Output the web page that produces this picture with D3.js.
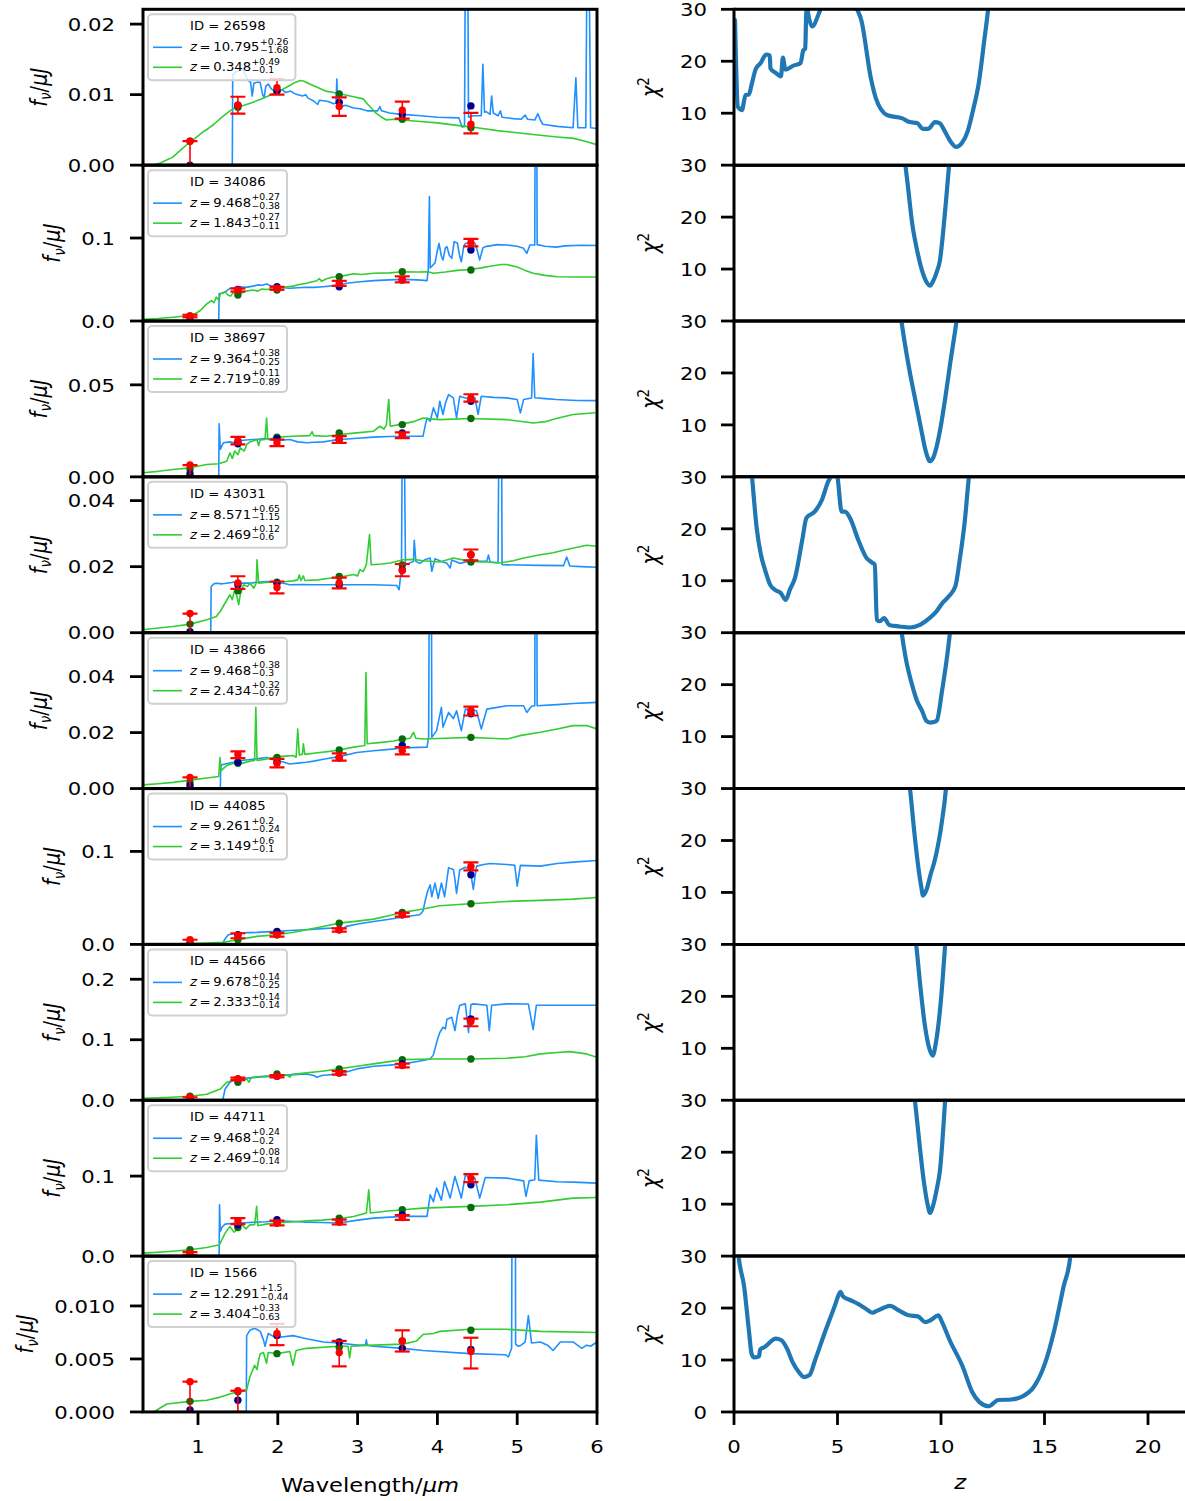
<!DOCTYPE html>
<html>
<head>
<meta charset="utf-8">
<script src="https://cdn.jsdelivr.net/npm/d3@7"></script>
<style>
  body { margin: 0; background: #ffffff; }
  text { font-family: "DejaVu Sans", sans-serif; fill: #000; }
</style>
</head>
<body>
<svg id="fig" width="1185" height="1501"></svg>
<script>
// ---------------------------------------------------------------------------
// Photometric redshift fits for nine candidates: SED fits (left) and chi^2(z)
// ---------------------------------------------------------------------------

const galaxyIds = ["26598", "34086", "38697", "43031", "43866", "44085", "44566", "44711", "1566"];

// primary (blue) and secondary (green) solutions: value, +err, -err
const zPrimary = [
  ["10.795", "+0.26", "\u22121.68"], ["9.468", "+0.27", "\u22120.38"], ["9.364", "+0.38", "\u22120.25"],
  ["8.571", "+0.65", "\u22121.15"], ["9.468", "+0.38", "\u22120.3"], ["9.261", "+0.2", "\u22120.24"],
  ["9.678", "+0.14", "\u22120.25"], ["9.468", "+0.24", "\u22120.2"], ["12.291", "+1.5", "\u22120.44"]
];
const zSecondary = [
  ["0.348", "+0.49", "\u22120.1"], ["1.843", "+0.27", "\u22120.11"], ["2.719", "+0.11", "\u22120.89"],
  ["2.469", "+0.12", "\u22120.6"], ["2.434", "+0.32", "\u22120.67"], ["3.149", "+0.6", "\u22120.1"],
  ["2.333", "+0.14", "\u22120.14"], ["2.469", "+0.08", "\u22120.14"], ["3.404", "+0.33", "\u22120.63"]
];

// NIRCam band pivot wavelengths (micron)
const bandWave = [0.90, 1.50, 1.99, 2.77, 3.56, 4.42];

// observed fluxes (uJy) with lower / upper errors
const obsFlux = [
  [0.0034, 0.0085, 0.0110, 0.0083, 0.0078, 0.0058],
  [0.0060, 0.0373, 0.0394, 0.0454, 0.0502, 0.0944],
  [0.0064, 0.0197, 0.0185, 0.0203, 0.0226, 0.0429],
  [0.0058, 0.0151, 0.0137, 0.0151, 0.0188, 0.0236],
  [0.0040, 0.0122, 0.0090, 0.0111, 0.0136, 0.0279],
  [0.0050, 0.0093, 0.0104, 0.0158, 0.0319, 0.0839],
  [0.0050, 0.0353, 0.0397, 0.0452, 0.0573, 0.1300],
  [0.0030, 0.0442, 0.0413, 0.0425, 0.0483, 0.0975],
  [0.00286, 0.0020, 0.0074, 0.0056, 0.0067, 0.0057]
];
const obsErrLo = [
  [0.0034, 0.0012, 0.0010, 0.0013, 0.0012, 0.0013],
  [0.0015, 0.0018, 0.0018, 0.0030, 0.0036, 0.0045],
  [0.0064, 0.0020, 0.0018, 0.0018, 0.0016, 0.0020],
  [0.0058, 0.0018, 0.0018, 0.0017, 0.0017, 0.0017],
  [0.0040, 0.0013, 0.0014, 0.0011, 0.0014, 0.0018],
  [0.0050, 0.0027, 0.0020, 0.0020, 0.0020, 0.0043],
  [0.0050, 0.0020, 0.0020, 0.0030, 0.0030, 0.0077],
  [0.0020, 0.0042, 0.0030, 0.0030, 0.0030, 0.0050],
  [0.00286, 0.0020, 0.0011, 0.0013, 0.0010, 0.0016]
];
const obsErrHi = [
  [0.0000, 0.0012, 0.0012, 0.0013, 0.0012, 0.0016],
  [0.0015, 0.0018, 0.0018, 0.0030, 0.0036, 0.0045],
  [0.0000, 0.0020, 0.0018, 0.0018, 0.0016, 0.0020],
  [0.0000, 0.0020, 0.0018, 0.0016, 0.0020, 0.0016],
  [0.0000, 0.0011, 0.0016, 0.0015, 0.0012, 0.0014],
  [0.0000, 0.0027, 0.0020, 0.0015, 0.0020, 0.0043],
  [0.0000, 0.0020, 0.0020, 0.0030, 0.0030, 0.0050],
  [0.0020, 0.0033, 0.0030, 0.0030, 0.0030, 0.0050],
  [0.0000, 0.0000, 0.0009, 0.0011, 0.0010, 0.0013]
];

// model photometry of the two templates
const modelPhotPrimary = [
  [0.0000, 0.0085, 0.0105, 0.0089, 0.0072, 0.0084],
  [0.0040, 0.0380, 0.0413, 0.0413, 0.0494, 0.0855],
  [0.0016, 0.0180, 0.0208, 0.0203, 0.0239, 0.0411],
  [0.0003, 0.0145, 0.0150, 0.0145, 0.0190, 0.0236],
  [0.0010, 0.0094, 0.0095, 0.0109, 0.0154, 0.0267],
  [0.0005, 0.0104, 0.0140, 0.0158, 0.0319, 0.0749],
  [0.0010, 0.0353, 0.0397, 0.0452, 0.0600, 0.1344],
  [0.0010, 0.0392, 0.0454, 0.0430, 0.0517, 0.0892],
  [0.0002, 0.0011, 0.0072, 0.0066, 0.0060, 0.0059]
];
const modelPhotSecondary = [
  [0.0034, 0.0082, 0.0106, 0.0101, 0.0065, 0.0053],
  [0.0060, 0.0313, 0.0373, 0.0534, 0.0594, 0.0615],
  [0.0040, 0.0190, 0.0216, 0.0239, 0.0284, 0.0317],
  [0.0026, 0.0127, 0.0153, 0.0170, 0.0205, 0.0214],
  [0.0022, 0.0090, 0.0111, 0.0138, 0.0177, 0.0183],
  [0.0020, 0.0050, 0.0104, 0.0229, 0.0344, 0.0437],
  [0.0066, 0.0298, 0.0435, 0.0518, 0.0672, 0.0683],
  [0.0079, 0.0358, 0.0413, 0.0475, 0.0579, 0.0608],
  [0.0010, 0.0019, 0.0055, 0.0061, 0.0067, 0.0077]
];

// template spectra [wavelength um, flux uJy]
const specPrimary = [
  [[0.31,0],[1.43,0],[1.435,0.0128],[1.46,0.0131],[1.50,0.0134],[1.56,0.0136],[1.62,0.0122],[1.66,0.0117],[1.68,0.0098],[1.70,0.0116],[1.75,0.0118],[1.78,0.0117],[1.81,0.0100],[1.83,0.0096],[1.85,0.0112],[1.88,0.0115],[1.92,0.0108],[1.97,0.0105],[2.05,0.0107],[2.10,0.0103],[2.16,0.0105],[2.22,0.0101],[2.31,0.0098],[2.35,0.0100],[2.38,0.0095],[2.45,0.0091],[2.50,0.0086],[2.52,0.0092],[2.60,0.0091],[2.64,0.0090],[2.70,0.0087],[2.73,0.0088],[2.74,0.0122],[2.75,0.0088],[2.79,0.0083],[2.85,0.0085],[2.95,0.0081],[3.03,0.0080],[3.12,0.0077],[3.25,0.0077],[3.28,0.0083],[3.30,0.0077],[3.40,0.0074],[3.55,0.0072],[3.79,0.0070],[4.0,0.0068],[4.27,0.0067],[4.31,0.0054],[4.34,0.0055],[4.35,0.03],[4.38,0.03],[4.39,0.0068],[4.45,0.0070],[4.55,0.0070],[4.57,0.0143],[4.59,0.0075],[4.61,0.0076],[4.66,0.0072],[4.68,0.0098],[4.70,0.0074],[4.76,0.0070],[4.79,0.0077],[4.81,0.0068],[4.95,0.0066],[5.05,0.0065],[5.10,0.0071],[5.13,0.0065],[5.22,0.0064],[5.26,0.0073],[5.29,0.0064],[5.32,0.0058],[5.50,0.0055],[5.70,0.0053],[5.735,0.0124],[5.76,0.0053],[5.86,0.0053],[5.875,0.03],[5.90,0.03],[5.92,0.0053],[6.0,0.0052]],
  [[0.31,0],[1.26,0],[1.265,0.033],[1.30,0.0335],[1.34,0.0349],[1.40,0.0394],[1.45,0.040],[1.53,0.0413],[1.60,0.0405],[1.69,0.042],[1.75,0.0435],[1.80,0.043],[1.86,0.0446],[1.92,0.042],[1.99,0.0413],[2.07,0.040],[2.15,0.0394],[2.25,0.040],[2.36,0.0406],[2.45,0.0405],[2.57,0.0413],[2.65,0.042],[2.77,0.0434],[2.86,0.0454],[3.0,0.047],[3.20,0.0486],[3.40,0.0495],[3.57,0.0502],[3.75,0.0495],[3.87,0.0486],[3.885,0.061],[3.90,0.150],[3.91,0.064],[3.93,0.066],[3.97,0.070],[4.0,0.085],[4.02,0.0936],[4.05,0.078],[4.07,0.0735],[4.10,0.088],[4.12,0.0896],[4.15,0.079],[4.18,0.0755],[4.21,0.0956],[4.25,0.094],[4.28,0.078],[4.30,0.0715],[4.33,0.090],[4.35,0.0936],[4.47,0.0936],[4.50,0.085],[4.53,0.0735],[4.57,0.088],[4.60,0.0896],[4.75,0.092],[4.87,0.0916],[5.0,0.090],[5.08,0.0876],[5.12,0.0815],[5.16,0.0916],[5.22,0.0916],[5.225,0.25],[5.245,0.25],[5.25,0.092],[5.35,0.090],[5.49,0.089],[5.6,0.0905],[5.8,0.0912],[6.0,0.091]],
  [[0.31,0],[1.26,0],[1.265,0.0288],[1.28,0.0149],[1.30,0.017],[1.32,0.0185],[1.40,0.019],[1.45,0.0185],[1.53,0.0197],[1.60,0.020],[1.69,0.0203],[1.78,0.0205],[1.86,0.0208],[1.92,0.020],[1.99,0.0197],[2.07,0.020],[2.15,0.0203],[2.25,0.019],[2.36,0.0185],[2.45,0.0188],[2.57,0.019],[2.68,0.0198],[2.78,0.0203],[3.0,0.021],[3.20,0.0216],[3.40,0.0219],[3.62,0.0221],[3.82,0.0221],[3.85,0.0284],[3.87,0.032],[3.91,0.0302],[3.95,0.0375],[4.0,0.032],[4.03,0.0411],[4.07,0.0339],[4.10,0.040],[4.14,0.0447],[4.20,0.0429],[4.24,0.032],[4.28,0.0438],[4.35,0.0429],[4.41,0.042],[4.47,0.0429],[4.51,0.0339],[4.55,0.0438],[4.7,0.0432],[4.87,0.0429],[5.0,0.042],[5.04,0.0348],[5.08,0.042],[5.18,0.0429],[5.2,0.067],[5.22,0.043],[5.35,0.0425],[5.49,0.042],[5.75,0.0415],[6.0,0.0414]],
  [[0.31,0],[1.16,0],[1.165,0.0140],[1.20,0.0148],[1.23,0.015],[1.30,0.0148],[1.36,0.015],[1.42,0.0152],[1.49,0.0155],[1.55,0.0150],[1.65,0.015],[1.75,0.0153],[1.86,0.0155],[1.99,0.0153],[2.07,0.015],[2.15,0.0145],[2.30,0.0146],[2.45,0.0145],[2.60,0.0145],[2.77,0.0145],[3.0,0.0145],[3.2,0.0145],[3.49,0.0143],[3.52,0.013],[3.55,0.0196],[3.56,0.06],[3.585,0.06],[3.60,0.0206],[3.70,0.0216],[3.71,0.028],[3.73,0.0216],[3.78,0.021],[3.85,0.0222],[3.91,0.0226],[3.93,0.0186],[3.97,0.0224],[4.05,0.0216],[4.12,0.021],[4.16,0.0196],[4.18,0.022],[4.28,0.021],[4.41,0.0217],[4.55,0.0216],[4.62,0.0217],[4.64,0.0235],[4.66,0.0214],[4.76,0.0212],[4.77,0.06],[4.805,0.06],[4.81,0.0206],[5.0,0.0205],[5.29,0.0204],[5.58,0.0203],[5.62,0.0229],[5.66,0.0202],[5.8,0.020],[6.0,0.0198]],
  [[0.31,0],[1.28,0],[1.285,0.0080],[1.30,0.0085],[1.34,0.0088],[1.44,0.0094],[1.53,0.010],[1.60,0.0102],[1.69,0.0105],[1.78,0.0108],[1.86,0.0111],[1.92,0.0105],[1.99,0.010],[2.07,0.0095],[2.15,0.0088],[2.25,0.0091],[2.36,0.0094],[2.45,0.0098],[2.57,0.0105],[2.77,0.0114],[2.99,0.0129],[3.20,0.0135],[3.40,0.014],[3.57,0.0145],[3.75,0.0147],[3.87,0.0148],[3.89,0.0183],[3.90,0.08],[3.925,0.08],[3.93,0.0183],[3.99,0.0207],[4.05,0.0290],[4.07,0.0219],[4.14,0.0272],[4.20,0.025],[4.24,0.0278],[4.30,0.0207],[4.35,0.0284],[4.49,0.0278],[4.55,0.0213],[4.62,0.0284],[4.75,0.029],[4.87,0.0296],[5.08,0.0296],[5.12,0.0272],[5.18,0.0294],[5.22,0.0296],[5.225,0.08],[5.245,0.08],[5.25,0.0296],[5.5,0.030],[5.70,0.0304],[6.0,0.0308]],
  [[0.31,0],[1.30,0],[1.34,0.006],[1.38,0.0104],[1.45,0.0115],[1.53,0.0122],[1.65,0.0127],[1.74,0.0129],[1.85,0.0135],[1.99,0.014],[2.15,0.015],[2.36,0.0158],[2.55,0.017],[2.70,0.0176],[2.77,0.0158],[2.80,0.016],[2.86,0.0194],[3.0,0.022],[3.20,0.0247],[3.40,0.027],[3.57,0.0294],[3.78,0.0319],[3.82,0.036],[3.85,0.048],[3.88,0.058],[3.91,0.064],[3.93,0.0513],[3.97,0.0659],[4.01,0.0495],[4.05,0.066],[4.09,0.0513],[4.14,0.0824],[4.20,0.0806],[4.22,0.070],[4.24,0.0548],[4.28,0.080],[4.35,0.083],[4.41,0.0806],[4.45,0.0591],[4.49,0.0842],[4.58,0.086],[4.66,0.087],[4.87,0.086],[4.97,0.085],[5.0,0.0627],[5.04,0.085],[5.29,0.0842],[5.5,0.087],[5.70,0.0885],[6.0,0.0903]],
  [[0.31,0],[1.31,0],[1.34,0.0187],[1.40,0.0298],[1.45,0.033],[1.53,0.0353],[1.65,0.037],[1.74,0.038],[1.85,0.039],[1.99,0.0397],[2.15,0.042],[2.36,0.0435],[2.45,0.041],[2.49,0.038],[2.55,0.041],[2.77,0.0435],[2.99,0.0518],[3.20,0.0562],[3.40,0.058],[3.57,0.0601],[3.75,0.064],[3.91,0.0683],[3.95,0.075],[4.0,0.1],[4.03,0.112],[4.07,0.1207],[4.10,0.118],[4.12,0.134],[4.18,0.137],[4.22,0.1152],[4.25,0.14],[4.28,0.157],[4.35,0.1593],[4.39,0.112],[4.42,0.158],[4.45,0.1593],[4.62,0.157],[4.65,0.115],[4.68,0.157],[4.87,0.1593],[5.14,0.159],[5.2,0.1169],[5.24,0.157],[5.5,0.157],[5.70,0.157],[6.0,0.157]],
  [[0.31,0],[1.265,0],[1.27,0.064],[1.28,0.0308],[1.30,0.036],[1.34,0.040],[1.45,0.041],[1.53,0.0413],[1.65,0.042],[1.74,0.0425],[1.85,0.043],[1.99,0.0442],[2.15,0.0435],[2.36,0.0425],[2.55,0.042],[2.77,0.0413],[3.0,0.045],[3.20,0.0475],[3.57,0.0496],[3.87,0.0496],[3.91,0.0767],[3.95,0.068],[3.99,0.0850],[4.05,0.070],[4.09,0.0933],[4.16,0.0725],[4.22,0.0996],[4.30,0.0725],[4.35,0.1008],[4.47,0.0975],[4.53,0.0725],[4.60,0.0983],[4.87,0.0975],[5.08,0.094],[5.11,0.0746],[5.15,0.094],[5.22,0.0954],[5.24,0.151],[5.27,0.095],[5.5,0.093],[5.70,0.0925],[6.0,0.0912]],
  [[0.31,0],[1.605,0],[1.61,0.0072],[1.65,0.0077],[1.71,0.0079],[1.78,0.0076],[1.82,0.0068],[1.84,0.0062],[1.88,0.0074],[1.95,0.0071],[1.99,0.0070],[2.07,0.0071],[2.19,0.0072],[2.36,0.0069],[2.57,0.0066],[2.78,0.0065],[2.99,0.0063],[3.10,0.0063],[3.11,0.0068],[3.12,0.0063],[3.20,0.0062],[3.57,0.0060],[3.82,0.0058],[4.41,0.0055],[4.85,0.0054],[4.89,0.0052],[4.93,0.006],[4.94,0.03],[4.975,0.03],[4.98,0.0064],[5.01,0.0062],[5.05,0.0063],[5.10,0.0066],[5.14,0.0091],[5.18,0.0065],[5.29,0.0066],[5.38,0.0063],[5.45,0.0058],[5.54,0.0066],[5.70,0.0066],[5.81,0.0060],[5.87,0.0063],[5.92,0.0062],[6.0,0.0066]]
];
const specSecondary = [
  [[0.31,0],[0.45,0.0001],[0.53,0.0003],[0.60,0.0007],[0.68,0.0011],[0.75,0.0018],[0.80,0.0023],[0.87,0.0030],[0.95,0.0037],[1.06,0.0047],[1.13,0.0052],[1.20,0.0058],[1.30,0.0068],[1.40,0.0077],[1.49,0.0083],[1.58,0.0085],[1.68,0.0089],[1.78,0.0093],[1.88,0.0098],[1.97,0.0103],[2.07,0.0108],[2.15,0.0113],[2.21,0.0117],[2.28,0.0120],[2.33,0.0119],[2.40,0.0115],[2.50,0.0110],[2.60,0.0105],[2.70,0.0103],[2.79,0.0101],[2.95,0.0097],[3.07,0.0094],[3.12,0.0087],[3.18,0.0080],[3.22,0.0075],[3.30,0.0068],[3.36,0.0064],[3.45,0.0065],[3.55,0.0064],[3.79,0.0062],[4.0,0.0060],[4.27,0.0056],[4.5,0.0053],[4.75,0.0049],[5.0,0.0046],[5.23,0.0043],[5.5,0.0040],[5.71,0.0038],[5.85,0.0034],[6.0,0.0029]],
  [[0.31,0.002],[0.50,0.003],[0.69,0.0046],[0.90,0.0066],[0.97,0.009],[1.03,0.0127],[1.11,0.0207],[1.17,0.0247],[1.20,0.022],[1.23,0.0287],[1.26,0.025],[1.28,0.0329],[1.34,0.0349],[1.38,0.031],[1.41,0.030],[1.44,0.034],[1.53,0.0329],[1.60,0.036],[1.69,0.0373],[1.75,0.036],[1.80,0.0385],[1.86,0.038],[1.93,0.039],[2.03,0.0394],[2.10,0.041],[2.19,0.042],[2.27,0.044],[2.36,0.0454],[2.42,0.047],[2.49,0.0486],[2.52,0.051],[2.55,0.048],[2.61,0.051],[2.69,0.053],[2.77,0.0534],[2.85,0.055],[2.95,0.057],[3.05,0.056],[3.20,0.0575],[3.40,0.058],[3.57,0.0594],[3.75,0.059],[3.87,0.0594],[3.92,0.0585],[3.95,0.0575],[4.1,0.059],[4.25,0.061],[4.41,0.062],[4.55,0.064],[4.66,0.066],[4.80,0.068],[4.87,0.068],[5.0,0.065],[5.1,0.061],[5.2,0.0575],[5.35,0.055],[5.5,0.0534],[5.75,0.053],[6.0,0.053]],
  [[0.31,0.0022],[0.50,0.003],[0.69,0.0040],[0.90,0.0049],[1.11,0.0067],[1.26,0.0071],[1.36,0.0085],[1.40,0.0130],[1.43,0.010],[1.46,0.014],[1.50,0.012],[1.53,0.0158],[1.58,0.014],[1.61,0.0176],[1.65,0.019],[1.74,0.0203],[1.76,0.017],[1.78,0.020],[1.84,0.0203],[1.86,0.032],[1.875,0.0203],[1.99,0.0216],[2.19,0.0221],[2.40,0.0224],[2.43,0.0245],[2.45,0.0224],[2.61,0.0221],[2.77,0.023],[2.99,0.0239],[3.20,0.0248],[3.28,0.0275],[3.33,0.026],[3.36,0.028],[3.39,0.042],[3.41,0.0275],[3.57,0.0288],[3.70,0.030],[3.82,0.032],[3.90,0.0315],[4.03,0.0311],[4.41,0.0317],[4.87,0.0311],[5.2,0.0293],[5.35,0.030],[5.49,0.0317],[5.70,0.0339],[5.98,0.0348]],
  [[0.31,0.0009],[0.50,0.0014],[0.69,0.0019],[0.90,0.0026],[1.11,0.0039],[1.23,0.0049],[1.28,0.0065],[1.34,0.009],[1.40,0.0115],[1.43,0.010],[1.46,0.013],[1.49,0.0108],[1.51,0.0085],[1.53,0.0115],[1.57,0.0145],[1.62,0.0140],[1.65,0.015],[1.70,0.0135],[1.73,0.015],[1.74,0.0221],[1.76,0.015],[1.85,0.0152],[1.94,0.0153],[2.10,0.0155],[2.19,0.0157],[2.25,0.0160],[2.27,0.0175],[2.29,0.0158],[2.32,0.0172],[2.34,0.0158],[2.50,0.016],[2.65,0.0165],[2.77,0.0168],[2.95,0.0176],[3.00,0.0172],[3.03,0.0191],[3.07,0.0185],[3.11,0.0206],[3.15,0.0297],[3.17,0.0206],[3.3,0.0208],[3.41,0.0211],[3.57,0.0221],[3.7,0.0222],[3.82,0.0218],[4.03,0.0214],[4.2,0.0226],[4.41,0.0216],[4.6,0.0214],[4.78,0.0211],[4.95,0.0218],[5.08,0.0226],[5.29,0.0236],[5.45,0.0242],[5.62,0.0252],[5.87,0.0265],[6.0,0.0262]],
  [[0.31,0.0013],[0.5,0.0017],[0.69,0.0022],[0.90,0.003],[1.11,0.0038],[1.26,0.0043],[1.275,0.0111],[1.29,0.0064],[1.32,0.0072],[1.36,0.0082],[1.42,0.0088],[1.49,0.0094],[1.55,0.009],[1.65,0.0098],[1.71,0.0100],[1.725,0.029],[1.74,0.0100],[1.85,0.0105],[1.99,0.0114],[2.10,0.0116],[2.19,0.0118],[2.23,0.0112],[2.25,0.0213],[2.27,0.0120],[2.31,0.0123],[2.32,0.0160],[2.34,0.0122],[2.5,0.0128],[2.65,0.0133],[2.77,0.0138],[2.95,0.0148],[3.05,0.0152],[3.09,0.0154],[3.105,0.0415],[3.12,0.016],[3.3,0.0165],[3.45,0.017],[3.57,0.0177],[3.66,0.0180],[3.70,0.0201],[3.73,0.0180],[3.82,0.0177],[4.1,0.018],[4.41,0.0183],[4.65,0.018],[4.87,0.0177],[5.05,0.019],[5.29,0.0201],[5.50,0.0213],[5.70,0.0225],[5.87,0.0225],[6.0,0.0213]],
  [[0.31,0.0],[0.6,0.0005],[0.9,0.001],[1.1,0.0015],[1.32,0.0022],[1.42,0.004],[1.53,0.0057],[1.74,0.0086],[1.99,0.0104],[2.2,0.013],[2.36,0.0158],[2.55,0.019],[2.77,0.0229],[3.0,0.025],[3.20,0.0272],[3.4,0.031],[3.57,0.0344],[3.82,0.038],[4.03,0.0416],[4.41,0.0437],[4.87,0.0462],[5.29,0.0473],[5.70,0.0487],[6.0,0.0505]],
  [[0.31,0.0033],[0.6,0.0045],[0.9,0.0066],[1.11,0.010],[1.28,0.0187],[1.36,0.0298],[1.45,0.033],[1.49,0.0342],[1.61,0.0353],[1.64,0.0298],[1.66,0.036],[1.69,0.038],[1.85,0.040],[1.99,0.0419],[2.12,0.042],[2.15,0.0380],[2.18,0.043],[2.36,0.0452],[2.55,0.048],[2.77,0.0518],[2.99,0.0562],[3.20,0.0601],[3.57,0.0672],[3.95,0.0683],[4.41,0.0683],[4.87,0.0694],[5.1,0.072],[5.29,0.0766],[5.5,0.079],[5.66,0.0804],[5.87,0.0766],[6.0,0.0711]],
  [[0.31,0.0037],[0.6,0.0055],[0.9,0.0079],[1.11,0.0108],[1.27,0.0142],[1.34,0.0287],[1.40,0.037],[1.45,0.030],[1.49,0.0329],[1.53,0.0413],[1.60,0.034],[1.65,0.039],[1.71,0.0392],[1.735,0.0621],[1.75,0.038],[1.85,0.040],[1.99,0.0413],[2.2,0.043],[2.36,0.0442],[2.55,0.045],[2.77,0.0467],[2.95,0.0496],[3.11,0.0538],[3.14,0.0829],[3.16,0.0538],[3.35,0.056],[3.57,0.0579],[3.82,0.06],[4.41,0.0621],[4.87,0.0642],[5.29,0.0675],[5.70,0.0725],[6.0,0.0733]],
  [[0.45,0],[0.52,0.00035],[0.61,0.00075],[0.90,0.0010],[1.11,0.0011],[1.28,0.0014],[1.49,0.0019],[1.61,0.0021],[1.65,0.0033],[1.71,0.0044],[1.74,0.0040],[1.76,0.0049],[1.78,0.0055],[1.82,0.0056],[1.86,0.0046],[1.88,0.0056],[1.99,0.0055],[2.15,0.0057],[2.19,0.0044],[2.23,0.0058],[2.36,0.0060],[2.77,0.0062],[2.88,0.0062],[2.90,0.0051],[2.92,0.0062],[3.20,0.0063],[3.57,0.0064],[3.74,0.0067],[3.82,0.0073],[3.95,0.0074],[4.03,0.0076],[4.41,0.0078],[4.87,0.0078],[5.29,0.0076],[6.0,0.0075]]
];

// chi^2 as a function of trial redshift [z, chi2]
const chi2Curves = [
  [[0.05,27.9],[0.19,11.2],[0.38,10.6],[0.56,13.5],[0.72,13.6],[0.85,15.5],[1.06,18.6],[1.28,19.6],[1.55,21.3],[1.73,21.1],[1.76,18.6],[2.0,17.8],[2.27,17.1],[2.36,20.7],[2.48,18.4],[2.9,19.2],[3.21,19.6],[3.35,22.1],[3.44,22.4],[3.49,29.2],[3.53,30.5],[3.58,29.2],[3.77,26.7],[4.16,29.8],[4.4,32],[5.5,33],[5.97,29.8],[6.15,27.9],[6.6,17.0],[6.86,12.8],[7.41,9.6],[8.13,9.0],[8.49,8.3],[8.85,8.1],[9.12,7.0],[9.39,7.0],[9.71,8.3],[9.93,8.1],[10.2,6.4],[10.47,4.5],[10.74,3.5],[11.0,4.2],[11.28,6.4],[11.55,10.6],[11.82,15.7],[12.09,24.0],[12.27,29.8],[12.35,33]],
  [[8.25,31],[8.4,26],[8.6,19],[8.84,13.7],[9.1,9.5],[9.3,7.5],[9.47,6.8],[9.6,7.5],[9.8,9.5],[9.95,11.7],[10.1,17],[10.24,23],[10.39,30],[10.45,33]],
  [[8.05,31],[8.2,27],[8.5,20],[8.8,14],[9.05,9],[9.2,6],[9.35,3.8],[9.45,3.0],[9.6,3.5],[9.8,6],[10.0,10],[10.2,15],[10.45,22],[10.75,30],[10.85,33]],
  [[0.8,33],[0.87,30],[1.1,20],[1.3,15],[1.5,12.1],[1.75,9.2],[2.0,8.2],[2.25,7.7],[2.5,6.3],[2.7,8.3],[2.95,10.6],[3.3,17.9],[3.5,22.1],[3.9,23.3],[4.25,25.6],[4.54,29],[4.73,30.5],[4.85,32],[5.0,30],[5.2,23.3],[5.36,23.3],[5.6,22.1],[6.0,17.9],[6.4,14.4],[6.67,13.5],[6.8,13.1],[6.9,2.5],[7.05,2.2],[7.25,2.8],[7.5,1.5],[8.0,1.2],[8.5,1.0],[8.98,1.5],[9.47,2.9],[9.76,4],[10.05,5.6],[10.4,7.1],[10.7,9.0],[10.9,13.9],[11.15,21.5],[11.35,30],[11.45,33]],
  [[8.0,33],[8.1,30],[8.3,25],[8.6,20],[8.84,16.9],[9.08,15],[9.3,13],[9.47,12.7],[9.65,12.8],[9.8,13.1],[10.05,18.8],[10.3,25.6],[10.43,30],[10.5,33]],
  [[8.4,33],[8.5,30],[8.7,22],[8.9,15],[9.05,11],[9.13,9.4],[9.3,10.5],[9.5,13.5],[9.7,16.2],[10.05,23.8],[10.24,30],[10.3,33]],
  [[8.7,33],[8.8,30],[9.0,22],[9.2,15],[9.4,10.5],[9.6,8.6],[9.75,11],[9.95,17.3],[10.2,30],[10.25,33]],
  [[8.65,33],[8.74,30],[8.95,22],[9.15,15],[9.35,10],[9.47,8.3],[9.6,9.5],[9.8,13],[9.95,16.5],[10.2,30],[10.25,33]],
  [[0.15,33],[0.22,30],[0.49,24.1],[0.72,15.7],[0.85,11.2],[0.97,10.5],[1.21,10.7],[1.26,12.0],[1.48,12.5],[2.02,14.1],[2.29,13.8],[2.56,12.2],[2.83,9.6],[3.19,7.4],[3.37,6.7],[3.65,7.1],[3.92,10.0],[4.37,15.1],[4.91,20.9],[5.05,22.5],[5.14,23.1],[5.27,22.2],[5.63,21.5],[5.99,20.8],[6.35,19.9],[6.68,19.1],[6.93,19.5],[7.26,20.1],[7.53,20.4],[7.98,19.5],[8.43,18.6],[8.88,18.4],[9.24,17.3],[9.51,17.7],[9.87,18.6],[10.05,17.3],[10.42,13.8],[11.05,8.7],[11.5,3.9],[11.86,1.9],[12.31,1.1],[12.76,2.3],[13.39,2.4],[13.94,3.0],[14.48,4.8],[15.02,9.3],[15.47,15.7],[15.92,24.1],[16.25,30],[16.3,33]]
];

// flux axis upper limits and tick values per panel
const fluxMax = [0.0221, 0.1878, 0.0847, 0.0472, 0.0557, 0.1676, 0.2576, 0.1948, 0.0147];
const fluxTicks = [[0, 0.01, 0.02], [0, 0.1], [0, 0.05], [0, 0.02, 0.04], [0, 0.02, 0.04], [0, 0.1], [0, 0.1, 0.2], [0, 0.1], [0, 0.005, 0.01]];
const fluxTickDigits = [2, 1, 2, 2, 2, 1, 1, 1, 3];
const waveTicks = [1, 2, 3, 4, 5, 6];
const zTicks = [0, 5, 10, 15, 20];
const chi2TicksUpper = [10, 20, 30];
const chi2TicksLast = [0, 10, 20, 30];

// ---------------------------------------------------------------------------
const svg = d3.select("#fig");
const rowTop0 = 9.3, rowH = 155.85, nRows = galaxyIds.length;
const leftX0 = 143, leftX1 = 597;
const rightX0 = 734, zMax = 21.85, zPx = 20.7;

const colPrimary = "#1e90ff", colSecondary = "#32cd32";
const colPhotPrimary = "#00008b", colPhotSecondary = "#0b6b0b";
const colChi = "#1f77b4";
const spineW = 3, tickLen = 12, tickW = 2.8;
const tickFont = 18.3, labelFont = 19.5, legendFont = 11.4, scriptFont = 8;
const SX = 1.16;   // horizontal glyph stretch of the typeset text

const xWave = d3.scaleLinear().domain([0.311, 6]).range([leftX0, leftX1]);
const xZ = d3.scaleLinear().domain([0, zMax]).range([rightX0, rightX0 + zMax * zPx]);

const defs = svg.append("defs");

// text placed at (x, y) and widened horizontally by SX
function wideText(g, x, y, size, anchor) {
  return g.append("text").attr("font-size", size).attr("text-anchor", anchor || "start")
    .attr("transform", `translate(${x},${y}) scale(${SX},1)`);
}
function textWidth(t) { return t.node().getComputedTextLength() * SX; }

function addMathLabel(g, parts, size) {
  const t = g.append("text").attr("font-size", size).attr("text-anchor", "middle");
  parts.forEach(p => {
    const s = t.append("tspan").text(p.t);
    if (p.it) s.attr("font-style", "italic");
    if (p.fs) s.attr("font-size", p.fs);
    if (p.dy) s.attr("dy", p.dy);
  });
  return t;
}

for (let i = 0; i < nRows; i++) {
  const top = rowTop0 + i * rowH, bottom = top + rowH;
  const isLast = i === nRows - 1;

  // ---------------- left: SED panel ----------------
  const yF = d3.scaleLinear().domain([0, fluxMax[i]]).range([bottom, top]);
  const gL = svg.append("g");
  defs.append("clipPath").attr("id", "clipL" + i)
    .append("rect").attr("x", leftX0).attr("y", top).attr("width", leftX1 - leftX0).attr("height", rowH);

  const plotL = gL.append("g").attr("clip-path", `url(#clipL${i})`);
  const line = d3.line().x(d => xWave(d[0])).y(d => yF(d[1]));
  plotL.append("path").datum(specPrimary[i]).attr("d", line)
    .attr("fill", "none").attr("stroke", colPrimary).attr("stroke-width", 1.6).attr("stroke-linejoin", "round");
  plotL.append("path").datum(specSecondary[i]).attr("d", line)
    .attr("fill", "none").attr("stroke", colSecondary).attr("stroke-width", 1.6).attr("stroke-linejoin", "round");

  const phot = bandWave.map((w, k) => ({
    w, f: obsFlux[i][k], lo: obsErrLo[i][k], hi: obsErrHi[i][k],
    mp: modelPhotPrimary[i][k], ms: modelPhotSecondary[i][k]
  }));
  plotL.selectAll(".ms").data(phot).join("circle")
    .attr("cx", d => xWave(d.w)).attr("cy", d => yF(d.ms)).attr("r", 3.7).attr("fill", colPhotSecondary);
  plotL.selectAll(".mp").data(phot).join("circle")
    .attr("cx", d => xWave(d.w)).attr("cy", d => yF(d.mp)).attr("r", 3.7).attr("fill", colPhotPrimary);
  const eb = plotL.append("g").attr("stroke", "red");
  phot.forEach(d => {
    const x = xWave(d.w), y0 = yF(d.f - d.lo), y1 = yF(d.f + d.hi);
    eb.append("line").attr("x1", x).attr("x2", x).attr("y1", y0).attr("y2", y1).attr("stroke-width", 1.6);
    eb.append("line").attr("x1", x - 7.5).attr("x2", x + 7.5).attr("y1", y0).attr("y2", y0).attr("stroke-width", 2.2);
    eb.append("line").attr("x1", x - 7.5).attr("x2", x + 7.5).attr("y1", y1).attr("y2", y1).attr("stroke-width", 2.2);
  });
  plotL.selectAll(".ob").data(phot).join("circle")
    .attr("cx", d => xWave(d.w)).attr("cy", d => yF(d.f)).attr("r", 3.7).attr("fill", "red");

  // legend
  const lg = gL.append("g");
  const lx = 148, ly = top + 5;
  const frame = lg.append("rect").attr("x", lx).attr("y", ly).attr("height", 66).attr("rx", 4)
    .attr("fill", "white").attr("fill-opacity", 0.8).attr("stroke", "#d0d0d0").attr("stroke-width", 2);
  const tx = 190;
  const idT = wideText(lg, tx, top + 21, legendFont).text("ID = " + galaxyIds[i]);
  let maxRight = tx + textWidth(idT);
  [[zPrimary[i], colPrimary, top + 38], [zSecondary[i], colSecondary, top + 58]].forEach(([zl, col, yc]) => {
    lg.append("line").attr("x1", 153).attr("x2", 182).attr("y1", yc).attr("y2", yc)
      .attr("stroke", col).attr("stroke-width", 1.6);
    const t = wideText(lg, tx, yc + 3.8, legendFont);
    t.append("tspan").attr("font-style", "italic").text("z");
    t.append("tspan").text("\u2009=\u2009" + zl[0]);
    const sx = tx + textWidth(t) + 0.5;
    const sup = wideText(lg, sx, yc - 2.8, scriptFont).text(zl[1]);
    const sub = wideText(lg, sx, yc + 5.6, scriptFont).text(zl[2]);
    maxRight = Math.max(maxRight, sx + textWidth(sup), sx + textWidth(sub));
  });
  frame.attr("width", maxRight + 7 - lx);

  // frame / spines
  gL.append("rect").attr("x", leftX0).attr("y", top).attr("width", leftX1 - leftX0).attr("height", rowH)
    .attr("fill", "none").attr("stroke", "#000").attr("stroke-width", spineW);

  // y ticks
  const fmt = d3.format("." + fluxTickDigits[i] + "f");
  let minLabelX = leftX0;
  fluxTicks[i].forEach(v => {
    const y = yF(v);
    gL.append("line").attr("x1", leftX0 - tickLen - 1).attr("x2", leftX0).attr("y1", y).attr("y2", y)
      .attr("stroke", "#000").attr("stroke-width", tickW);
    const t = wideText(gL, leftX0 - 28, y + 6.7, tickFont, "end").text(fmt(v));
    minLabelX = Math.min(minLabelX, leftX0 - 28 - textWidth(t));
  });
  const yl = addMathLabel(gL, [
    { t: "f", it: true }, { t: "\u03bd", it: true, fs: 13.5, dy: 4 }, { t: "/", dy: -4 }, { t: "\u03bcJ", it: true }
  ], labelFont);
  yl.attr("transform", `translate(${minLabelX - 21},${(top + bottom) / 2}) scale(${SX},1) rotate(-90)`);

  // ---------------- right: chi^2 panel ----------------
  const yC = d3.scaleLinear().domain([0, 30]).range([bottom, top]);
  const gR = svg.append("g");
  defs.append("clipPath").attr("id", "clipR" + i)
    .append("rect").attr("x", rightX0).attr("y", top).attr("width", 1185 - rightX0).attr("height", rowH);
  const cline = d3.line().x(d => xZ(d[0])).y(d => yC(d[1])).curve(d3.curveMonotoneX);
  gR.append("g").attr("clip-path", `url(#clipR${i})`)
    .append("path").datum(chi2Curves[i]).attr("d", cline)
    .attr("fill", "none").attr("stroke", colChi).attr("stroke-width", 4.2)
    .attr("stroke-linejoin", "round").attr("stroke-linecap", "round");

  gR.append("line").attr("x1", rightX0).attr("x2", 1185).attr("y1", top).attr("y2", top)
    .attr("stroke", "#000").attr("stroke-width", spineW);
  gR.append("line").attr("x1", rightX0).attr("x2", 1185).attr("y1", bottom).attr("y2", bottom)
    .attr("stroke", "#000").attr("stroke-width", spineW);
  gR.append("line").attr("x1", rightX0).attr("x2", rightX0).attr("y1", top - spineW / 2).attr("y2", bottom + spineW / 2)
    .attr("stroke", "#000").attr("stroke-width", spineW);

  let minR = rightX0;
  (isLast ? chi2TicksLast : chi2TicksUpper).forEach(v => {
    const y = yC(v);
    gR.append("line").attr("x1", rightX0 - tickLen - 1).attr("x2", rightX0).attr("y1", y).attr("y2", y)
      .attr("stroke", "#000").attr("stroke-width", tickW);
    const t = wideText(gR, rightX0 - 27, y + 6.7, tickFont, "end").text(v);
    minR = Math.min(minR, rightX0 - 27 - textWidth(t));
  });
  const cl = addMathLabel(gR, [{ t: "\u03c7", it: true }, { t: "2", fs: 13.5, dy: -8 }], labelFont);
  cl.attr("transform", `translate(${minR - 22},${(top + bottom) / 2}) scale(${SX},1) rotate(-90)`);

  // ---------------- shared x axes on the bottom row ----------------
  if (isLast) {
    waveTicks.forEach(v => {
      const x = xWave(v);
      gL.append("line").attr("x1", x).attr("x2", x).attr("y1", bottom).attr("y2", bottom + tickLen + 1)
        .attr("stroke", "#000").attr("stroke-width", tickW);
      wideText(gL, x, bottom + 41, tickFont, "middle").text(v);
    });
    const xl = wideText(gL, (leftX0 + leftX1) / 2, bottom + 80, labelFont, "middle");
    xl.append("tspan").text("Wavelength/");
    xl.append("tspan").attr("font-style", "italic").text("\u03bcm");

    zTicks.forEach(v => {
      const x = xZ(v);
      gR.append("line").attr("x1", x).attr("x2", x).attr("y1", bottom).attr("y2", bottom + tickLen + 1)
        .attr("stroke", "#000").attr("stroke-width", tickW);
      wideText(gR, x, bottom + 41, tickFont, "middle").text(v);
    });
    wideText(gR, (xZ(0) + xZ(zMax)) / 2, bottom + 77, labelFont, "middle")
      .attr("font-style", "italic").text("z");
  }
}
</script>
</body>
</html>
